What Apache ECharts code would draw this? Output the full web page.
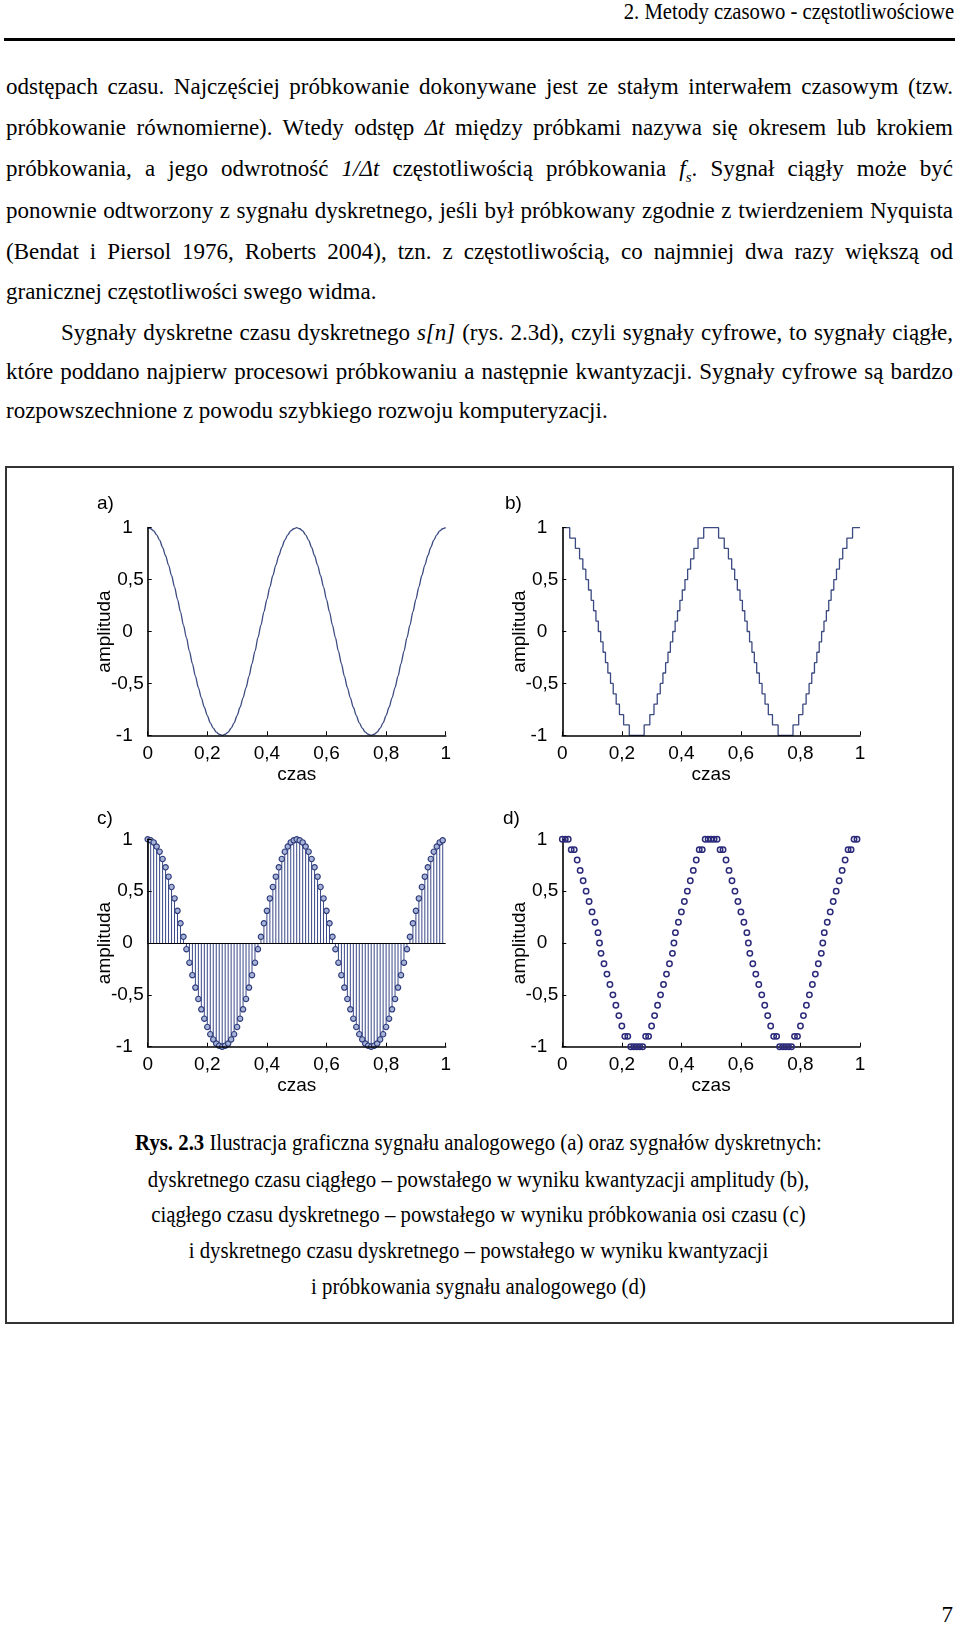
<!DOCTYPE html>
<html>
<head>
<meta charset="utf-8">
<script src="https://cdn.jsdelivr.net/npm/echarts/dist/echarts.min.js"></script>
<style>
html,body{margin:0;padding:0;background:#fff;}
body{width:960px;height:1627px;position:relative;overflow:hidden;font-family:"Liberation Serif","Times New Roman",serif;color:#000;}
.hdr{position:absolute;right:6px;top:0;font-size:23px;line-height:24px;white-space:nowrap;transform:scaleX(0.9);transform-origin:right center;}
.rule{position:absolute;left:4px;top:38px;width:951px;height:3px;background:#000;}
.ln{position:absolute;left:6px;width:947px;height:40px;line-height:40px;font-size:23px;}
.j{text-align:justify;text-align-last:justify;}
.l{text-align:left;white-space:nowrap;}
.frame{position:absolute;left:5px;top:466px;width:949px;height:858px;box-sizing:border-box;border:2px solid #333;}
.cap{position:absolute;left:0;width:957px;height:40px;line-height:40px;font-size:24px;text-align:center;white-space:nowrap;transform:scaleX(0.866);transform-origin:478px center;}
.pg{position:absolute;right:7px;top:1595px;font-size:23px;line-height:40px;}
#chart{position:absolute;left:0;top:460px;width:960px;height:650px;}
</style>
</head>
<body>
<div class="hdr">2. Metody czasowo - częstotliwościowe</div>
<div class="rule"></div>

<div class="ln j" style="top:67px">odstępach czasu. Najczęściej próbkowanie dokonywane jest ze stałym interwałem czasowym (tzw.</div>
<div class="ln j" style="top:108px">próbkowanie równomierne). Wtedy odstęp <i>Δt</i> między próbkami nazywa się okresem lub krokiem</div>
<div class="ln j" style="top:149px">próbkowania, a jego odwrotność <i>1/Δt</i> częstotliwością próbkowania <i>f<sub style="font-size:15px">s</sub></i>. Sygnał ciągły może być</div>
<div class="ln j" style="top:191px">ponownie odtworzony z sygnału dyskretnego, jeśli był próbkowany zgodnie z twierdzeniem Nyquista</div>
<div class="ln j" style="top:232px">(Bendat i Piersol 1976, Roberts 2004), tzn. z częstotliwością, co najmniej dwa razy większą od</div>
<div class="ln l" style="top:272px">granicznej częstotliwości swego widma.</div>
<div class="ln j" style="top:313px;left:61px;width:892px">Sygnały dyskretne czasu dyskretnego <i>s[n]</i> (rys. 2.3d), czyli sygnały cyfrowe, to sygnały ciągłe,</div>
<div class="ln j" style="top:352px">które poddano najpierw procesowi próbkowaniu a następnie kwantyzacji. Sygnały cyfrowe są bardzo</div>
<div class="ln l" style="top:391px">rozpowszechnione z powodu szybkiego rozwoju komputeryzacji.</div>

<div class="frame"></div>
<div id="chart"></div>

<div class="cap" style="top:1122px"><b>Rys. 2.3</b> Ilustracja graficzna sygnału analogowego (a) oraz sygnałów dyskretnych:</div>
<div class="cap" style="top:1159px">dyskretnego czasu ciągłego – powstałego w wyniku kwantyzacji amplitudy (b),</div>
<div class="cap" style="top:1194px">ciągłego czasu dyskretnego – powstałego w wyniku próbkowania osi czasu (c)</div>
<div class="cap" style="top:1230px">i dyskretnego czasu dyskretnego – powstałego w wyniku kwantyzacji</div>
<div class="cap" style="top:1266px">i próbkowania sygnału analogowego (d)</div>

<div class="pg">7</div>

<script>
// ---- data ----
const xTickLabels = ['0', '0,2', '0,4', '0,6', '0,8', '1'];
const yTickLabels = ['-1', '-0,5', '0', '0,5', '1'];
const panelLabels = ['a)', 'b)', 'c)', 'd)'];

// (a) analog signal, and (c) its samples
const time = [0,0.01,0.02,0.03,0.04,0.05,0.06,0.07,0.08,0.09,0.1,0.11,0.12,0.13,0.14,0.15,0.16,0.17,0.18,0.19,
  0.2,0.21,0.22,0.23,0.24,0.25,0.26,0.27,0.28,0.29,0.3,0.31,0.32,0.33,0.34,0.35,0.36,0.37,0.38,0.39,
  0.4,0.41,0.42,0.43,0.44,0.45,0.46,0.47,0.48,0.49,0.5,0.51,0.52,0.53,0.54,0.55,0.56,0.57,0.58,0.59,
  0.6,0.61,0.62,0.63,0.64,0.65,0.66,0.67,0.68,0.69,0.7,0.71,0.72,0.73,0.74,0.75,0.76,0.77,0.78,0.79,
  0.8,0.81,0.82,0.83,0.84,0.85,0.86,0.87,0.88,0.89,0.9,0.91,0.92,0.93,0.94,0.95,0.96,0.97,0.98,0.99,1];
const analog = [1,0.99,0.97,0.93,0.88,0.81,0.73,0.64,0.54,0.43,0.31,0.19,0.06,-0.06,-0.19,-0.31,-0.43,-0.54,-0.64,-0.73,
  -0.81,-0.88,-0.93,-0.97,-0.99,-1,-0.99,-0.97,-0.93,-0.88,-0.81,-0.73,-0.64,-0.54,-0.43,-0.31,-0.19,-0.06,0.06,0.19,
  0.31,0.43,0.54,0.64,0.73,0.81,0.88,0.93,0.97,0.99,1,0.99,0.97,0.93,0.88,0.81,0.73,0.64,0.54,0.43,
  0.31,0.19,0.06,-0.06,-0.19,-0.31,-0.43,-0.54,-0.64,-0.73,-0.81,-0.88,-0.93,-0.97,-0.99,-1,-0.99,-0.97,-0.93,-0.88,
  -0.81,-0.73,-0.64,-0.54,-0.43,-0.31,-0.19,-0.06,0.06,0.19,0.31,0.43,0.54,0.64,0.73,0.81,0.88,0.93,0.97,0.99,1];
const sampleCount = 100;

// (b) amplitude-quantized signal: start time of each level step, and the level
const stepTime = [0,0.025,0.044,0.058,0.069,0.079,0.088,0.097,0.105,0.113,0.121,0.129,0.137,0.145,0.153,0.162,0.171,0.181,0.192,0.206,0.225,
  0.275,0.294,0.308,0.319,0.329,0.338,0.347,0.355,0.363,0.371,0.379,0.387,0.395,0.403,0.412,0.421,0.431,0.442,0.456,0.475,
  0.525,0.544,0.558,0.569,0.579,0.588,0.597,0.605,0.613,0.621,0.629,0.637,0.645,0.653,0.662,0.671,0.681,0.692,0.706,0.725,
  0.775,0.794,0.808,0.819,0.829,0.838,0.847,0.855,0.863,0.871,0.879,0.887,0.895,0.903,0.912,0.921,0.931,0.942,0.956,0.975,1];
const stepLevel = [1,0.9,0.8,0.7,0.6,0.5,0.4,0.3,0.2,0.1,0,-0.1,-0.2,-0.3,-0.4,-0.5,-0.6,-0.7,-0.8,-0.9,-1,
  -0.9,-0.8,-0.7,-0.6,-0.5,-0.4,-0.3,-0.2,-0.1,0,0.1,0.2,0.3,0.4,0.5,0.6,0.7,0.8,0.9,1,
  0.9,0.8,0.7,0.6,0.5,0.4,0.3,0.2,0.1,0,-0.1,-0.2,-0.3,-0.4,-0.5,-0.6,-0.7,-0.8,-0.9,-1,
  -0.9,-0.8,-0.7,-0.6,-0.5,-0.4,-0.3,-0.2,-0.1,0,0.1,0.2,0.3,0.4,0.5,0.6,0.7,0.8,0.9,1,1];

// (d) sampled and quantized signal
const digitalTime = [0,0.01,0.02,0.03,0.04,0.05,0.06,0.07,0.08,0.09,0.1,0.11,0.12,0.125,0.13,0.14,0.15,0.16,0.17,0.18,0.19,
  0.2,0.21,0.22,0.23,0.24,0.25,0.26,0.27,0.28,0.29,0.3,0.31,0.32,0.33,0.34,0.35,0.36,0.37,0.375,0.38,0.39,
  0.4,0.41,0.42,0.43,0.44,0.45,0.46,0.47,0.48,0.49,0.5,0.51,0.52,0.53,0.54,0.55,0.56,0.57,0.58,0.59,
  0.6,0.61,0.62,0.625,0.63,0.64,0.65,0.66,0.67,0.68,0.69,0.7,0.71,0.72,0.73,0.74,0.75,0.76,0.77,0.78,0.79,
  0.8,0.81,0.82,0.83,0.84,0.85,0.86,0.87,0.875,0.88,0.89,0.9,0.91,0.92,0.93,0.94,0.95,0.96,0.97,0.98,0.99];
const digitalValue = [1,1,1,0.9,0.9,0.8,0.7,0.6,0.5,0.4,0.3,0.2,0.1,0,
  -0.1,-0.2,-0.3,-0.4,-0.5,-0.6,-0.7,-0.8,-0.9,-0.9,-1,-1,-1,-1,-1,-0.9,-0.9,-0.8,-0.7,-0.6,-0.5,-0.4,-0.3,-0.2,-0.1,0,
  0.1,0.2,0.3,0.4,0.5,0.6,0.7,0.8,0.9,0.9,1,1,1,1,1,0.9,0.9,0.8,0.7,0.6,0.5,0.4,0.3,0.2,0.1,0,
  -0.1,-0.2,-0.3,-0.4,-0.5,-0.6,-0.7,-0.8,-0.9,-0.9,-1,-1,-1,-1,-1,-0.9,-0.9,-0.8,-0.7,-0.6,-0.5,-0.4,-0.3,-0.2,-0.1,0,
  0.1,0.2,0.3,0.4,0.5,0.6,0.7,0.8,0.9,0.9,1,1];

// ---- chart ----
const FONT = 'Liberation Sans, Arial, Helvetica, sans-serif';
const FS = 19;
const grids = [
  {left: 147.7, top: 67.7, width: 298, height: 207.6},
  {left: 562.3, top: 67.7, width: 297.7, height: 207.6},
  {left: 147.7, top: 379.3, width: 298, height: 207.4},
  {left: 562.3, top: 379.3, width: 297.7, height: 207.4}
];
const labelPos = [[97, 44], [505, 44], [97, 358.5], [503, 358.5]];

const chart = echarts.init(document.getElementById('chart'), null, {renderer: 'canvas'});

const xAxes = grids.map((g, i) => ({
  type: 'value', gridIndex: i, min: 0, max: 1, interval: 0.2, z: 5,
  name: 'czas', nameLocation: 'middle', nameGap: 30,
  nameTextStyle: {fontSize: FS, fontFamily: FONT, color: '#000'},
  axisLine: {show: true, onZero: false, lineStyle: {color: '#000', width: 1.6}},
  axisTick: {show: true, inside: true, length: 4, lineStyle: {color: '#000', width: 1}},
  splitLine: {show: false},
  axisLabel: {
    margin: 9, fontSize: FS, fontFamily: FONT, color: '#000',
    formatter: v => xTickLabels[Math.round(v / 0.2)]
  }
}));
const yAxes = grids.map((g, i) => ({
  type: 'value', gridIndex: i, min: -1, max: 1, interval: 0.5, z: 5,
  name: 'amplituda', nameLocation: 'middle', nameGap: 33, nameMoveOverlap: false,
  nameTextStyle: {fontSize: FS, fontFamily: FONT, color: '#000'},
  axisLine: {show: true, onZero: false, lineStyle: {color: '#000', width: 1.6}},
  axisTick: {show: true, inside: true, length: 4, lineStyle: {color: '#000', width: 1}},
  splitLine: {show: false},
  axisLabel: {
    margin: 4, fontSize: FS, fontFamily: FONT, color: '#000',
    formatter: v => {
      const s = yTickLabels[Math.round((v + 1) * 2)];
      return s.indexOf(',') < 0 ? '{i|' + s + '}' : '{h|' + s + '}';
    },
    rich: {
      i: {fontSize: FS, fontFamily: FONT, color: '#000', padding: [0, 11, 0, 0]},
      h: {fontSize: FS, fontFamily: FONT, color: '#000'}
    }
  }
}));

const LINE = '#3b4a80';
const option = {
  animation: false,
  backgroundColor: 'transparent',
  grid: grids.map(g => Object.assign({containLabel: false, outerBoundsMode: 'none'}, g)),
  xAxis: xAxes,
  yAxis: yAxes,
  graphic: panelLabels.map((t, i) => ({
    type: 'text', x: labelPos[i][0], y: labelPos[i][1],
    style: {text: t, fontSize: FS, fontFamily: FONT, fill: '#000', verticalAlign: 'middle', align: 'left'}
  })),
  series: [
    {
      name: 'a', type: 'line', xAxisIndex: 0, yAxisIndex: 0,
      data: time.map((t, k) => [t, analog[k]]),
      showSymbol: false, smooth: 0.3, smoothMonotone: 'x',
      lineStyle: {color: LINE, width: 1.3}
    },
    {
      name: 'b', type: 'line', xAxisIndex: 1, yAxisIndex: 1, step: 'end',
      data: stepTime.map((t, k) => [t, stepLevel[k]]),
      showSymbol: false,
      lineStyle: {color: LINE, width: 1.3}
    },
    {
      name: 'c stems', type: 'custom', xAxisIndex: 2, yAxisIndex: 2,
      data: time.slice(0, sampleCount).map((t, k) => [t, analog[k]]),
      encode: {x: 0, y: 1},
      renderItem: (params, api) => {
        const p0 = api.coord([api.value(0), 0]);
        const p1 = api.coord([api.value(0), api.value(1)]);
        return {
          type: 'line',
          shape: {x1: p0[0], y1: p0[1], x2: p1[0], y2: p1[1]},
          style: {stroke: '#3a4987', lineWidth: 1}
        };
      },
      z: 2
    },
    {
      name: 'c', type: 'scatter', xAxisIndex: 2, yAxisIndex: 2,
      data: time.slice(0, sampleCount).map((t, k) => [t, analog[k]]),
      symbol: 'circle', symbolSize: 5.4,
      itemStyle: {color: '#a7b3d7', borderColor: '#2d3a7a', borderWidth: 1.1, opacity: 1},
      markLine: {
        silent: true, symbol: 'none', label: {show: false},
        lineStyle: {color: '#000', width: 1, type: 'solid'},
        data: [{yAxis: 0}]
      },
      z: 3
    },
    {
      name: 'd', type: 'scatter', xAxisIndex: 3, yAxisIndex: 3,
      data: digitalTime.map((t, k) => [t, digitalValue[k]]),
      symbol: 'circle', symbolSize: 5.4,
      itemStyle: {color: 'rgba(0,0,0,0)', borderColor: '#2b2a7a', borderWidth: 1.5, opacity: 1},
      z: 6
    }
  ]
};
chart.setOption(option);
</script>
</body>
</html>
